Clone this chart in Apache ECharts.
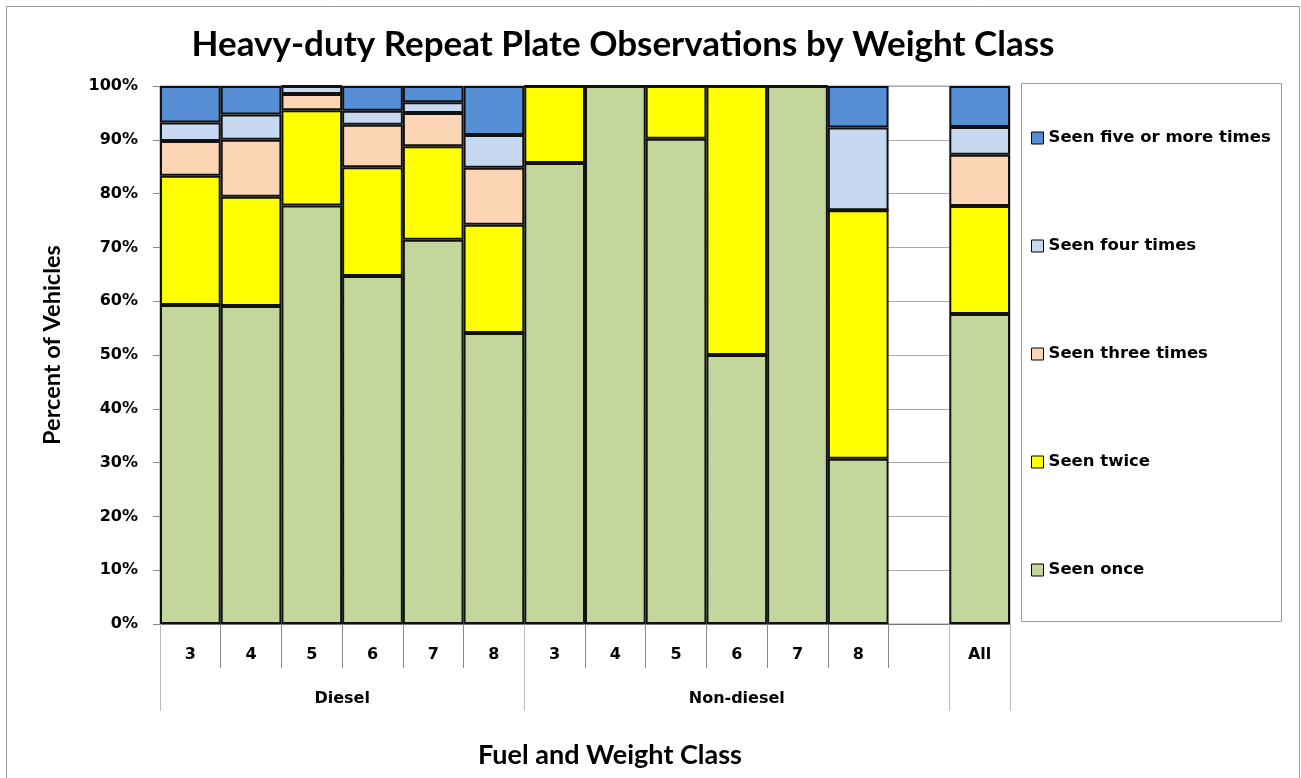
<!DOCTYPE html>
<html>
<head>
<meta charset="utf-8">
<script src="https://cdn.jsdelivr.net/npm/echarts@6/dist/echarts.min.js"></script>
<style>
  html, body { margin: 0; padding: 0; background: #fff; }
  #main { width: 1301px; height: 778px; }
</style>
</head>
<body>
<div id="main"></div>
<script>
// categories: weight class within fuel type, blank spacer, then all
const classLabels = ['3', '4', '5', '6', '7', '8', '3', '4', '5', '6', '7', '8', '', 'All'];
const fuelGroups = ['Diesel', 'Non-diesel'];
const yTicks = [0, 10, 20, 30, 40, 50, 60, 70, 80, 90, 100];

// percent of vehicles in each bucket
const seenOnce  = [59.3, 59.1, 77.8, 64.7, 71.4, 54.1, 85.7, 100, 90.2, 50.0, 100, 30.7, null, 57.6];
const seenTwice = [24.0, 20.3, 17.7, 20.2, 17.4, 20.1, 14.3, 0, 9.8, 50.0, 0, 46.2, null, 20.1];
const seenThree = [6.5, 10.6, 3.0, 7.9, 6.2, 10.6, 0, 0, 0, 0, 0, 0, null, 9.5];
const seenFour  = [3.4, 4.7, 1.5, 2.6, 2.0, 6.1, 0, 0, 0, 0, 0, 15.4, null, 5.2];
const seenFive  = [6.8, 5.3, 0, 4.6, 3.0, 9.1, 0, 0, 0, 0, 0, 7.7, null, 7.6];

const seriesNames = ['Seen once', 'Seen twice', 'Seen three times', 'Seen four times', 'Seen five or more times'];
const seriesData = [seenOnce, seenTwice, seenThree, seenFour, seenFive];
const colors = ['#c3d69b', '#ffff00', '#fcd5b5', '#c6d9f1', '#558ed5'];

const HEAD_FONT = 'Lato';
const FONT = 'DejaVu Sans';

const chart = echarts.init(document.getElementById('main'));

chart.setOption({
    animation: false,
    textStyle: { fontFamily: FONT, fontWeight: 'bold', color: '#000' },
    title: {
        text: 'Heavy-duty Repeat Plate Observations by Weight Class',
        left: 618, top: 22, textAlign: 'center',
        textStyle: { fontSize: 35, fontWeight: 'bold', fontFamily: HEAD_FONT, color: '#000' }
    },
    grid: {
        left: 160, right: 291, top: 86, bottom: 154,
        show: true, borderColor: '#999', borderWidth: 1
    },
    legend: {
        orient: 'vertical',
        left: 1026, top: 123,
        itemWidth: 12, itemHeight: 12, itemGap: 88,
        icon: 'rect',
        data: seriesNames.slice().reverse(),
        itemStyle: { borderColor: '#000', borderWidth: 1 },
        textStyle: { fontSize: 16.5, fontWeight: 'bold', fontFamily: FONT, color: '#000', lineHeight: 20 }
    },
    graphic: [
        { type: 'rect', shape: { x: 6.5, y: 6.5, width: 1293, height: 790 }, style: { fill: null, stroke: '#999', lineWidth: 1 }, silent: true },
        { type: 'rect', shape: { x: 1021.5, y: 83.5, width: 260, height: 538 }, style: { fill: null, stroke: '#999', lineWidth: 1 }, silent: true }
    ],
    xAxis: [
        {
            type: 'category',
            data: classLabels,
            position: 'bottom',
            axisLine: { lineStyle: { color: '#777' } },
            axisTick: { show: true, interval: 0, length: 44, lineStyle: { color: '#888' } },
            axisLabel: { interval: 0, margin: 23, fontSize: 16, fontWeight: 'bold', color: '#000', fontFamily: FONT },
            name: 'Fuel and Weight Class',
            nameLocation: 'middle',
            nameGap: 118,
            nameTextStyle: { fontSize: 27, fontWeight: 'bold', color: '#000', fontFamily: HEAD_FONT, padding: [0, 0, 0, 50] }
        },
        {
            // group separators for the fuel type row
            type: 'category',
            data: classLabels,
            position: 'bottom',
            axisLine: { show: false },
            axisTick: {
                show: true, length: 87,
                interval: function (i) { return i === 0 || i === 6 || i === 13; },
                lineStyle: { color: '#bbb' }
            },
            axisLabel: { show: false }
        },
        {
            // fuel type labels, centered on their span
            type: 'value',
            min: 0, max: classLabels.length, interval: 0.5,
            position: 'bottom',
            axisLine: { show: false },
            axisTick: { show: false },
            splitLine: { show: false },
            axisLabel: {
                margin: 67, fontSize: 16, fontWeight: 'bold', color: '#000', fontFamily: FONT,
                showMinLabel: false, showMaxLabel: false,
                formatter: function (v) {
                    if (v === 3) return fuelGroups[0];
                    if (v === 9.5) return fuelGroups[1];
                    return '';
                }
            }
        }
    ],
    yAxis: {
        type: 'value',
        min: yTicks[0], max: yTicks[yTicks.length - 1], interval: 10,
        axisLine: { show: true, lineStyle: { color: '#777' } },
        axisTick: { show: true, length: 7, lineStyle: { color: '#888' } },
        axisLabel: { formatter: '{value}%', margin: 22, fontSize: 16, fontWeight: 'bold', color: '#000', fontFamily: FONT },
        splitLine: { lineStyle: { color: '#aaa', width: 1 } },
        name: 'Percent of Vehicles',
        nameLocation: 'middle',
        nameGap: 96,
        nameTextStyle: { fontSize: 23.5, fontWeight: 'bold', color: '#000', fontFamily: HEAD_FONT, padding: [0, 0, 0, 20] }
    },
    series: seriesData.map(function (d, i) {
        return {
            name: seriesNames[i],
            type: 'bar',
            stack: 'total',
            xAxisIndex: 0,
            barCategoryGap: '0%',
            data: d,
            itemStyle: { color: colors[i], borderColor: '#111', borderWidth: 2 }
        };
    })
});
</script>
</body>
</html>
